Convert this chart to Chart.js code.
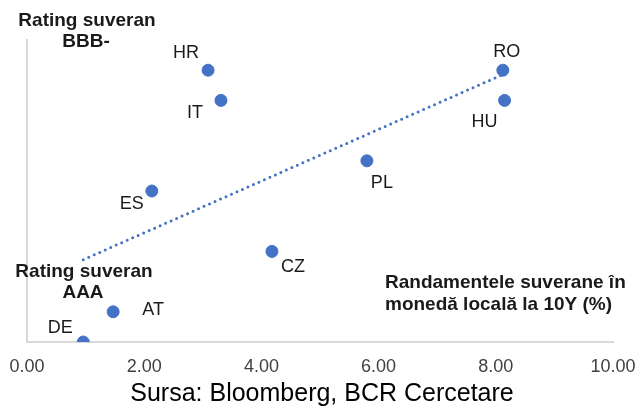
<!DOCTYPE html>
<html>
<head>
<meta charset="utf-8">
<script src="https://cdn.jsdelivr.net/npm/chart.js@4.4.1/dist/chart.umd.min.js"></script>
<style>
  html, body { margin: 0; padding: 0; background: #fff; }
  #wrap { width: 637px; height: 407px; }
</style>
</head>
<body>
<div id="wrap"><canvas id="chart" width="637" height="407"></canvas></div>
<script>
// countries and their values
const countries = ["DE", "AT", "ES", "HR", "IT", "CZ", "PL", "RO", "HU"];
// 10Y local currency yields (%)
const yields = [0.96, 1.47, 2.13, 3.09, 3.31, 4.18, 5.80, 8.12, 8.15];
// rating notches below AAA (AAA = 0 ... BBB- = 9)
const ratingNotch = [0, 1, 5, 9, 8, 3, 6, 9, 8];
const xTicks = [0, 2, 4, 6, 8, 10];

// where each country label sits relative to its dot (px)
const labelShift = [[-23, -14], [40, -2], [-20, 13], [-22, -17], [-26, 13], [21, 16], [15, 22], [4, -18], [-20, 22]];

const blue = "#4472C4";
const font = "'Liberation Sans', Arial, sans-serif";

// linear trend line from the points
function trend() {
  const n = yields.length;
  const mx = yields.reduce((a, b) => a + b, 0) / n;
  const my = ratingNotch.reduce((a, b) => a + b, 0) / n;
  let sxy = 0, sxx = 0;
  for (let i = 0; i < n; i++) {
    sxy += (yields[i] - mx) * (ratingNotch[i] - my);
    sxx += (yields[i] - mx) * (yields[i] - mx);
  }
  const k = sxy / sxx, b = my - k * mx;
  const x0 = Math.min(...yields), x1 = Math.max(...yields);
  return [{ x: x0, y: k * x0 + b }, { x: x1, y: k * x1 + b }];
}

const textPlugin = {
  id: "texts",
  afterDatasetsDraw(chart) {
    const ctx = chart.ctx;
    const xs = chart.scales.x, ys = chart.scales.y;
    ctx.save();
    ctx.textBaseline = "middle";
    ctx.textAlign = "center";
    ctx.fillStyle = "#1a1a1a";
    ctx.font = "18px " + font;
    countries.forEach((c, i) => {
      const px = xs.getPixelForValue(yields[i]);
      const py = ys.getPixelForValue(ratingNotch[i]);
      ctx.fillText(c, px + labelShift[i][0], py + labelShift[i][1]);
    });

    ctx.font = "bold 19px " + font;
    ctx.fillText("Rating suveran", 87, 21);
    ctx.fillText("BBB-", 86, 42);
    ctx.fillText("Rating suveran", 84, 272);
    ctx.fillText("AAA", 83, 293);
    ctx.textAlign = "left";
    ctx.fillText("Randamentele suverane în", 385, 283);
    ctx.fillText("monedă locală la 10Y (%)", 385, 305);

    ctx.textAlign = "center";
    ctx.font = "25px " + font;
    ctx.fillStyle = "#000";
    ctx.fillText("Sursa: Bloomberg, BCR Cercetare", 322, 394);
    ctx.restore();
  }
};

new Chart(document.getElementById("chart"), {
  type: "scatter",
  data: {
    datasets: [
      {
        type: "line",
        data: trend(),
        borderColor: blue,
        borderWidth: 3,
        borderDash: [0, 6],
        borderCapStyle: "round",
        pointRadius: 0,
        fill: false,
        order: 2
      },
      {
        data: yields.map((v, i) => ({ x: v, y: ratingNotch[i] })),
        backgroundColor: blue,
        borderColor: blue,
        pointRadius: 6,
        pointHoverRadius: 6,
        order: 1
      }
    ]
  },
  options: {
    responsive: false,
    animation: false,
    layout: { padding: { left: 27, top: 40, right: 24, bottom: 0 } },
    plugins: { legend: { display: false }, tooltip: { enabled: false } },
    scales: {
      x: {
        type: "linear",
        min: 0,
        max: 10,
        afterBuildTicks: s => { s.ticks = xTicks.map(v => ({ value: v })); },
        afterFit: s => { s.height = 65; s.paddingLeft = 0; s.paddingRight = 0; },
        grid: { display: false, drawTicks: false },
        border: { display: true, color: "#d9d9d9", width: 2 },
        ticks: {
          color: "#404040",
          padding: 14,
          maxRotation: 0,
          font: { size: 18, family: font },
          callback: v => v.toFixed(2)
        }
      },
      y: {
        min: 0,
        max: 10,
        afterFit: s => { s.width = 0; s.paddingTop = 0; s.paddingBottom = 0; },
        grid: { display: false, drawTicks: false },
        border: { display: true, color: "#d9d9d9", width: 2 },
        ticks: { display: false }
      }
    }
  },
  plugins: [textPlugin]
});
</script>
</body>
</html>
